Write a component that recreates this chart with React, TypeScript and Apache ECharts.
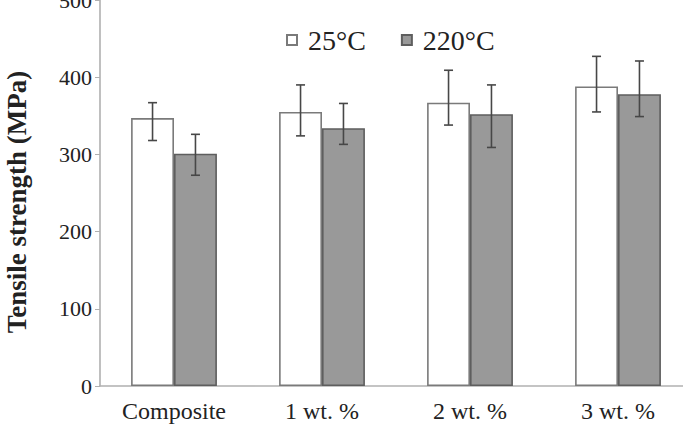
import React, { useEffect, useRef } from "react";
import * as echarts from "echarts";

const categories = ["Composite", "1 wt. %", "2 wt. %", "3 wt. %"];
const seriesNames = ["25°C", "220°C"];
const room = [347, 355, 367, 388];
const roomLow = [318, 324, 338, 355];
const roomHigh = [367, 390, 409, 427];
const hot = [301, 334, 352, 378];
const hotLow = [273, 313, 309, 349];
const hotHigh = [326, 366, 390, 421];
const yTicks = { min: 0, max: 500, interval: 100 };

const FONT = "'Liberation Serif', 'Times New Roman', serif";
const BAR_FRAC = 0.29;

function errorSeries(low: number[], high: number[], side: number) {
  return {
    type: "custom",
    silent: true,
    z: 10,
    encode: { x: 0, y: [1, 2] },
    data: categories.map((_, i) => [i, low[i], high[i]]),
    renderItem: (params: any, api: any) => {
      const i = api.value(0);
      const lo = api.coord([i, api.value(1)]);
      const hi = api.coord([i, api.value(2)]);
      const band = api.size([1, 0])[0];
      const x = lo[0] + side * band * BAR_FRAC * 0.5;
      const cap = 4.5;
      const style = { stroke: "#474747", lineWidth: 1.6 };
      return {
        type: "group",
        children: [
          { type: "line", shape: { x1: x, y1: lo[1], x2: x, y2: hi[1] }, style },
          { type: "line", shape: { x1: x - cap, y1: lo[1], x2: x + cap, y2: lo[1] }, style },
          { type: "line", shape: { x1: x - cap, y1: hi[1], x2: x + cap, y2: hi[1] }, style },
        ],
      };
    },
  };
}

export default function App() {
  const ref = useRef<HTMLDivElement>(null);
  useEffect(() => {
    if (!ref.current) return;
    const chart = echarts.init(ref.current, undefined, { renderer: "svg" });
    chart.setOption({
      animation: false,
      backgroundColor: "#ffffff",
      textStyle: { fontFamily: FONT },
      grid: {
        left: 100,
        top: 0,
        width: 592,
        height: 386,
        containLabel: false,
        outerBoundsMode: "none",
      },
      legend: {
        left: 281,
        top: 21,
        icon: "rect",
        itemWidth: 10,
        itemHeight: 10,
        itemGap: 35,
        data: seriesNames,
        textStyle: { fontFamily: FONT, fontSize: 28, color: "#222", padding: [0, 0, 0, 6] },
      },
      xAxis: {
        type: "category",
        data: categories,
        axisLine: { lineStyle: { color: "#b0b0b0", width: 1.6 } },
        axisTick: { show: false },
        axisLabel: { fontFamily: FONT, fontSize: 24, color: "#222", margin: 13 },
      },
      yAxis: {
        type: "value",
        min: yTicks.min,
        max: yTicks.max,
        interval: yTicks.interval,
        axisLine: { show: true, lineStyle: { color: "#b0b0b0", width: 1.6 } },
        axisTick: { show: true, length: 5, lineStyle: { color: "#b0b0b0" } },
        splitLine: { show: false },
        axisLabel: { fontFamily: FONT, fontSize: 22, color: "#222", margin: 8 },
      },
      graphic: [
        {
          type: "text",
          x: 17,
          y: 202,
          rotation: Math.PI / 2,
          style: {
            text: "Tensile strength (MPa)",
            fontFamily: FONT,
            fontWeight: "bold",
            fontSize: 27,
            fill: "#222",
            align: "center",
            verticalAlign: "middle",
          },
        },
      ],
      series: [
        {
          name: seriesNames[0],
          type: "bar",
          data: room,
          barWidth: BAR_FRAC * 100 + "%",
          barGap: "0%",
          itemStyle: { color: "#ffffff", borderColor: "#7a7a7a", borderWidth: 1.6 },
        },
        {
          name: seriesNames[1],
          type: "bar",
          data: hot,
          barWidth: BAR_FRAC * 100 + "%",
          barGap: "0%",
          itemStyle: { color: "#999999", borderColor: "#5e5e5e", borderWidth: 1.6 },
        },
        errorSeries(roomLow, roomHigh, -1),
        errorSeries(hotLow, hotHigh, 1),
      ],
    });
    return () => chart.dispose();
  }, []);
  return (
    <div
      ref={ref}
      style={{ position: "fixed", left: 0, top: 0, width: 683, height: 427 }}
    />
  );
}
